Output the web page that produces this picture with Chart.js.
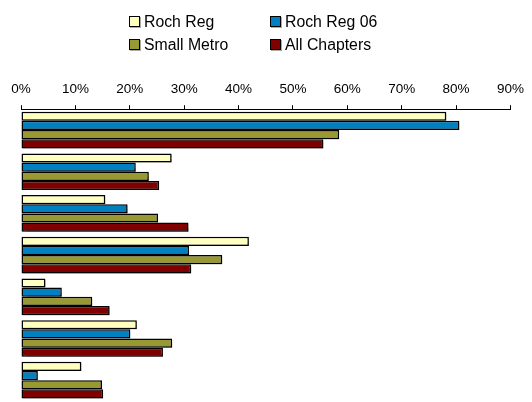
<!DOCTYPE html>
<html>
<head>
<meta charset="utf-8">
<title>Roch Reg comparison</title>
<script src="https://cdn.jsdelivr.net/npm/chart.js"></script>
<style>
  html, body { margin: 0; padding: 0; background: #fff; }
  #wrap { position: relative; width: 532px; height: 402px; }
  #legend { position: absolute; left: 129px; top: 10px; display: grid; grid-template-columns: 141px 130px;
            font-family: 'Liberation Sans', Arial, sans-serif; font-size: 15.8px; color: #000; }
  #legend span.item { display: flex; align-items: center; height: 23px; white-space: nowrap; }
  #legend span.box { width: 9px; height: 9px; border: 1px solid #000; margin-right: 4px; box-shadow: 1px 1px 0 #aaa; flex: none; }
</style>
</head>
<body>
<div id="wrap">
  <canvas id="chart" width="532" height="402"></canvas>
  <div id="legend"></div>
</div>
<script>
// categories (unlabelled in the original)
const categories = ['1', '2', '3', '4', '5', '6', '7'];
const seriesNames = ['Roch Reg', 'Roch Reg 06', 'Small Metro', 'All Chapters'];
const rochReg     = [78.2, 27.7, 15.5, 41.9, 4.5, 21.3, 11.1];
const rochReg06   = [80.6, 21.1, 19.6, 30.9, 7.5, 20.1, 3.1];
const smallMetro  = [58.5, 23.5, 25.2, 37.0, 13.1, 27.8, 14.9];
const allChapters = [55.6, 25.4, 30.8, 31.3, 16.3, 26.1, 15.1];
const tickValues  = [0, 10, 20, 30, 40, 50, 60, 70, 80, 90];
const colors = ['#FFFFC0', '#0080C0', '#999933', '#800000'];

const seriesData = [rochReg, rochReg06, smallMetro, allChapters];

// html legend, 2 x 2
const legend = document.getElementById('legend');
[0, 1, 2, 3].forEach(i => {
  const item = document.createElement('span');
  item.className = 'item';
  item.innerHTML = '<span class="box" style="background:' + colors[i] + '"></span>' + seriesNames[i];
  legend.appendChild(item);
});

// grey drop shadow behind the bars
const barShadow = {
  id: 'barShadow',
  beforeDatasetsDraw(chart) {
    const c = chart.ctx;
    c.save();
    c.shadowColor = 'rgba(0,0,0,0.3)';
    c.shadowOffsetX = 1.5;
    c.shadowOffsetY = 1.5;
    c.shadowBlur = 1;
  },
  afterDatasetsDraw(chart) {
    chart.ctx.restore();
  }
};

new Chart(document.getElementById('chart'), {
  type: 'bar',
  data: {
    labels: categories,
    datasets: seriesData.map((d, i) => ({
      label: seriesNames[i],
      data: d,
      backgroundColor: colors[i],
      borderColor: '#000',
      borderWidth: 1.5,
      borderSkipped: false,
      categoryPercentage: 0.88,
      barPercentage: 1.0
    }))
  },
  options: {
    indexAxis: 'y',
    responsive: false,
    animation: false,
    layout: { padding: { top: 73, left: 21, right: 21, bottom: 1 } },
    plugins: {
      legend: { display: false },
      tooltip: { enabled: false }
    },
    scales: {
      x: {
        position: 'top',
        min: 0,
        max: 90,
        afterBuildTicks(axis) { axis.ticks = tickValues.map(v => ({ value: v })); },
        ticks: {
          color: '#000',
          padding: 8,
          maxRotation: 0,
          font: { family: "'Liberation Sans', Arial, sans-serif", size: 13.5 },
          callback: v => v + '%'
        },
        grid: { drawOnChartArea: false, drawTicks: true, tickLength: 4, color: '#000', tickColor: '#000' },
        border: { display: true, color: '#000', width: 1 }
      },
      y: {
        display: false
      }
    }
  },
  plugins: [barShadow]
});
</script>
</body>
</html>
